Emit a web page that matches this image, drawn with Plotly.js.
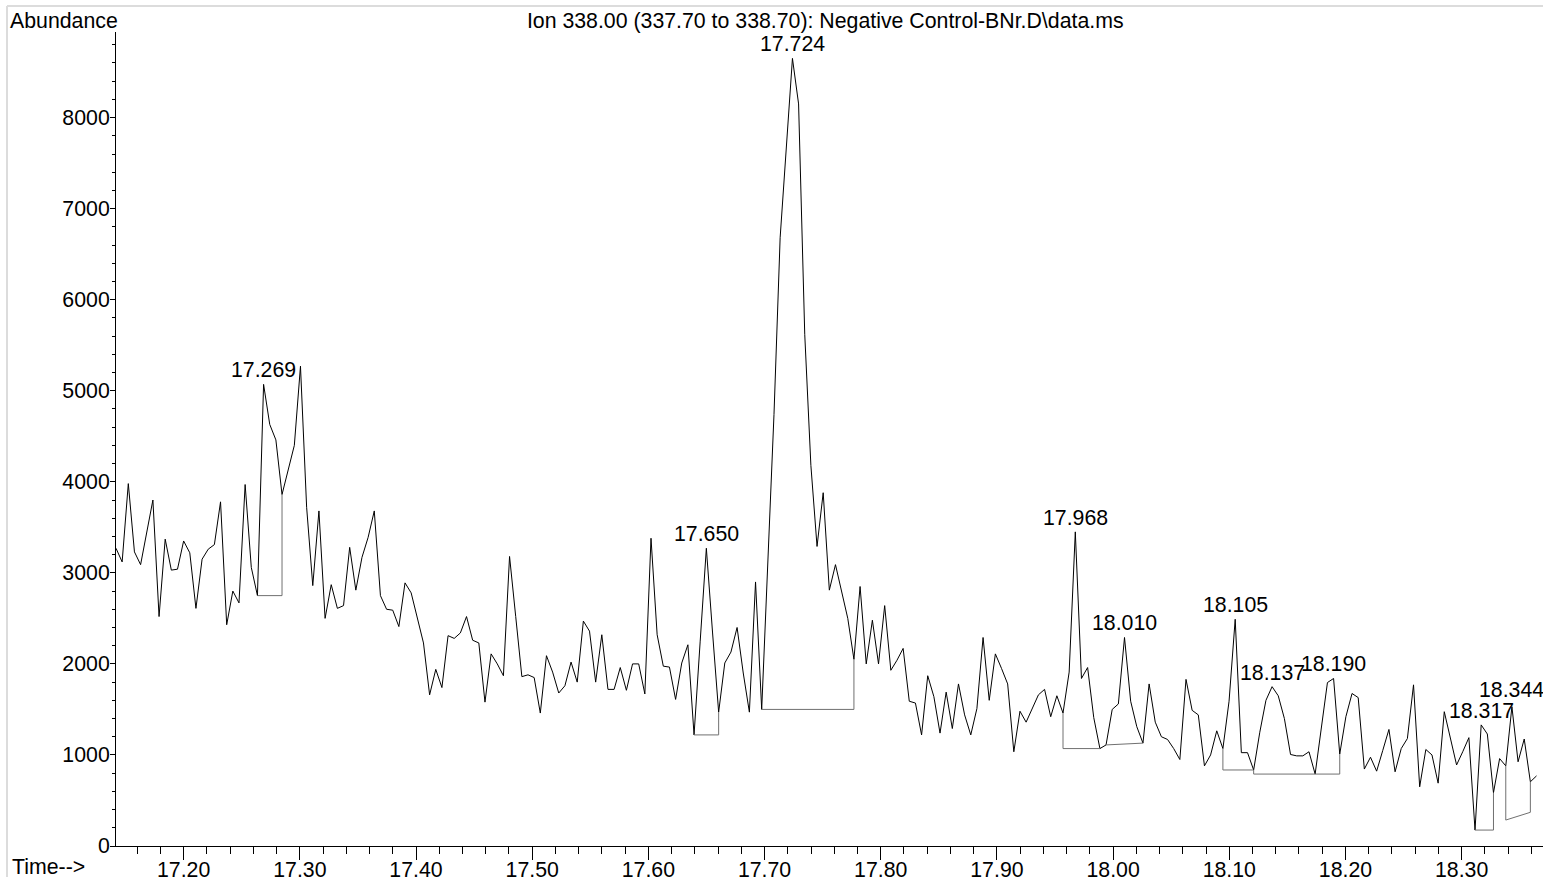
<!DOCTYPE html>
<html>
<head>
<meta charset="utf-8">
<script src="https://cdn.plot.ly/plotly-3.0.1.min.js"></script>
<style>
  html, body { margin: 0; padding: 0; background: #ffffff; }
  #chart { width: 1543px; height: 877px; }
</style>
</head>
<body>
<div id="chart"></div>
<script>
// ---- data ----
const chartTitle = "Ion 338.00 (337.70 to 338.70): Negative Control-BNr.D\\data.ms";
const scanStart = 17.14177;     // min, first scan
const scanInterval = 0.005293;  // min between scans

const abundance = [
  3270, 3120, 3980, 3230, 3090, 3440, 3800, 2520, 3370, 3030,
  3040, 3350, 3220, 2610, 3150, 3260, 3310, 3780, 2430, 2800,
  2670, 3970, 3060, 2750, 5070, 4630, 4460, 3860, 4120, 4400,
  5270, 3720, 2860, 3680, 2500, 2870, 2610, 2640, 3280, 2810,
  3170, 3390, 3680, 2750, 2600, 2590, 2410, 2890, 2780, 2500,
  2230, 1660, 1940, 1740, 2310, 2280, 2340, 2520, 2260, 2230,
  1580, 2110, 2000, 1870, 3180, 2520, 1860, 1880, 1850, 1460,
  2090, 1910, 1680, 1760, 2020, 1800, 2470, 2360, 1800, 2320,
  1720, 1720, 1960, 1710, 2000, 2000, 1670, 3380, 2320, 1975,
  1965, 1610, 2010, 2210, 1220, 2250, 3270, 2350, 1470, 2010,
  2130, 2400, 1900, 1470, 2900, 1500, 3170, 4740, 6680, 7700,
  8650, 8150, 5620, 4180, 3290, 3880, 2810, 3090, 2800, 2500,
  2050, 2850, 2000, 2480, 2000, 2640, 1930, 2040, 2170, 1590,
  1570, 1220, 1870, 1640, 1240, 1690, 1290, 1780, 1440, 1220,
  1510, 2290, 1600, 2110, 1950, 1780, 1035, 1480, 1360, 1520,
  1660, 1720, 1420, 1650, 1460, 1910, 3450, 1840, 1960, 1410,
  1070, 1110, 1500, 1560, 2290, 1590, 1310, 1130, 1780, 1360,
  1200, 1170, 1070, 950, 1830, 1490, 1440, 880, 1000, 1265,
  1070, 1590, 2490, 1025, 1025, 835, 1250, 1600, 1750, 1650,
  1400, 1005, 990, 990, 1035, 790, 1265, 1795, 1840, 1010,
  1420, 1675, 1630, 845, 975, 822, 1050, 1280, 815, 1070,
  1180, 1770, 650, 1060, 1000, 690, 1475, 1180, 890, 1035,
  1190, 175, 1330, 1230, 585, 960, 880, 1530, 925, 1175,
  705, 770
];

// integrated peaks: label, apex scan, baseline start/end scan and level
const peakLabels   = ["17.269", "17.650", "17.724", "17.968", "18.010", "18.105", "18.137", "18.190", "18.317", "18.344"];
const peakApexScan = [24, 96, 110, 156, 164, 182, 188, 198, 222, 227];
const baseStartScan = [23, 94, 105, 154, 161, 180, 185, 195, 221, 226];
const baseEndScan   = [27, 98, 120, 160, 167, 185, 195, 199, 224, 230];
const baseStartLevel = [2750, 1220, 1500, 1070, 1110, 835, 790, 790, 175, 285];
const baseEndLevel   = [2750, 1220, 1500, 1070, 1130, 835, 790, 790, 175, 370];
const labelLift      = [0, 0, 0, 0, 0, 0, 0, 0, 0, 3];

// ---- build ----
const times = abundance.map((_, i) => scanStart + i * scanInterval);
const FONT = "Liberation Sans, Arial, Helvetica, sans-serif";
const FS = 21.3;

const traces = [{
  x: times, y: abundance, type: "scatter", mode: "lines",
  line: { color: "#000000", width: 1 }, hoverinfo: "skip"
}];

for (let k = 0; k < peakLabels.length; k++) {
  const s = baseStartScan[k], e = baseEndScan[k];
  traces.push({
    x: [times[s], times[s], times[e], times[e]],
    y: [abundance[s], baseStartLevel[k], baseEndLevel[k], abundance[e]],
    type: "scatter", mode: "lines",
    line: { color: "#707070", width: 1 }, hoverinfo: "skip"
  });
}

const annotations = peakLabels.map((lab, k) => ({
  x: times[peakApexScan[k]], y: abundance[peakApexScan[k]],
  xref: "x", yref: "y", text: lab, showarrow: false,
  xanchor: "center", yanchor: "bottom", yshift: labelLift[k],
  font: { family: FONT, size: FS, color: "#000000" }
}));

annotations.push({
  xref: "paper", yref: "paper", x: -0.0757, y: 1.0141,
  xanchor: "left", yanchor: "middle", text: "Abundance", showarrow: false,
  font: { family: FONT, size: FS, color: "#000000" }
});
annotations.push({
  xref: "paper", yref: "paper", x: -0.0743, y: -0.0086,
  xanchor: "left", yanchor: "top", text: "Time-->", showarrow: false,
  font: { family: FONT, size: FS, color: "#000000" }
});

const layout = {
  width: 1543, height: 877,
  margin: { l: 116, r: 0, t: 32, b: 31, pad: 0 },
  paper_bgcolor: "#ffffff", plot_bgcolor: "#ffffff",
  showlegend: false,
  font: { family: FONT, size: FS, color: "#000000" },
  title: {
    text: chartTitle, xref: "paper", x: 0.497, xanchor: "center",
    yref: "container", y: 0.9766, yanchor: "middle",
    font: { family: FONT, size: FS, color: "#000000" }
  },
  xaxis: {
    range: [17.14177, 18.37003], showgrid: false, zeroline: false,
    showline: true, linecolor: "#000000", linewidth: 1,
    ticks: "outside", ticklen: 13, tickwidth: 1, tickcolor: "#000000",
    tick0: 17.2, dtick: 0.1, tickformat: ".2f", ticklabelstandoff: -9,
    tickfont: { family: FONT, size: FS, color: "#000000" },
    minor: { dtick: 0.02, ticks: "outside", ticklen: 7, tickwidth: 1, tickcolor: "#000000", showgrid: false }
  },
  yaxis: {
    range: [0, 8940], showgrid: false, zeroline: false,
    showline: true, linecolor: "#000000", linewidth: 1,
    ticks: "outside", ticklen: 5, tickwidth: 1, tickcolor: "#000000",
    tick0: 0, dtick: 1000, tickformat: "d", ticklabelstandoff: -4,
    tickfont: { family: FONT, size: FS, color: "#000000" },
    minor: { dtick: 200, ticks: "outside", ticklen: 3, tickwidth: 1, tickcolor: "#000000", showgrid: false }
  },
  shapes: [
    { type: "line", xref: "paper", yref: "paper", x0: -0.0764, x1: 1.0, y0: 1.0319, y1: 1.0319,
      line: { color: "#dcdcdc", width: 2 } },
    { type: "line", xref: "paper", yref: "paper", x0: -0.0764, x1: -0.0764, y0: 1.0319, y1: -0.04,
      line: { color: "#dcdcdc", width: 2 } }
  ],
  annotations: annotations
};

Plotly.newPlot("chart", traces, layout, { staticPlot: true, displayModeBar: false });
</script>
</body>
</html>
